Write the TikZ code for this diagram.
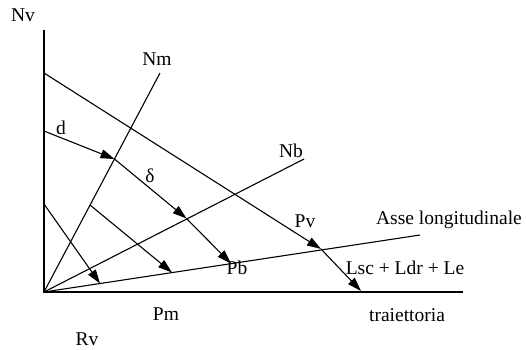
\documentclass[tikz,border=0pt]{standalone}
\usepackage{fontspec}
\setmainfont{Liberation Serif}
\usetikzlibrary{arrows.meta}
\begin{document}
\begin{tikzpicture}[x=1pt,y=-1pt,
  axis/.style={line width=1.6pt},
  ray/.style={line width=1.1pt},
  arr/.style={line width=1.1pt,-{Triangle[length=14pt,width=9pt]}},
  lbl/.style={inner sep=0pt,font=\fontsize{19.5}{23}\selectfont}]
\useasboundingbox (0,0) rectangle (526,349);
% key points
\coordinate (O) at (44,292);
\coordinate (Vtop) at (44,30);
\coordinate (Hend) at (463,292);
\coordinate (Nmtop) at (160,73);
\coordinate (Nbtop) at (304,159);
\coordinate (Asend) at (420,235);
\coordinate (P0) at (44,73);
\coordinate (Pvpt) at (321,249);
\coordinate (Tend) at (361,291);
\coordinate (D0) at (44,131);
\coordinate (A1) at (114.5,159);
\coordinate (A2) at (186.5,218.5);
\coordinate (A3) at (231,263.5);
\coordinate (E0) at (90,205);
\coordinate (E1) at (172,272.5);
\coordinate (F0) at (44,204);
\coordinate (F1) at (100,283.5);
% axes
\draw[axis] (Vtop) -- (O) -- (Hend);
% lines from origin
\draw[ray] (O) -- (Nmtop);
\draw[ray] (O) -- (Nbtop);
\draw[ray] (O) -- (Asend);
% rays with arrows
\draw[arr] (P0) -- (Pvpt);
\draw[arr] (Pvpt) -- (Tend);
\draw[arr] (D0) -- (A1);
\draw[arr] (A1) -- (A2);
\draw[arr] (A2) -- (A3);
\draw[arr] (E0) -- (E1);
\draw[arr] (F0) -- (F1);
% labels
\node[lbl] (nv) at (23,15) {Nv};
\node[lbl] (nm) at (157,59) {Nm};
\node[lbl] (nb) at (291,151) {Nb};
\node[lbl] (d) at (61,128) {d};
\node[lbl] (delta) at (150,176) {δ};
\node[lbl] (pv) at (305,221) {Pv};
\node[lbl] (asse) at (449,220) {Asse longitudinale};
\node[lbl] (lsc) at (405,268) {Lsc + Ldr + Le};
\node[lbl] (pb) at (237,268) {Pb};
\node[lbl] (pm) at (166,314) {Pm};
\node[lbl] (rv) at (87,339) {Rv};
\node[lbl] (traj) at (407,315) {traiettoria};
\end{tikzpicture}
\end{document}
